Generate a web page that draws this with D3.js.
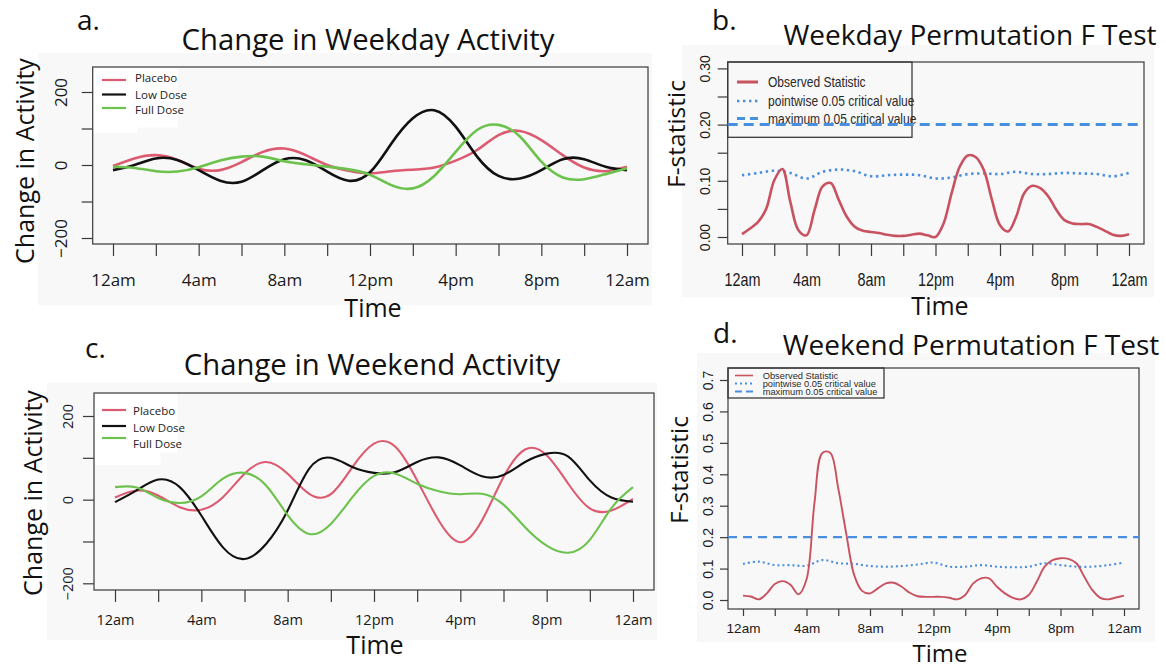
<!DOCTYPE html>
<html>
<head>
<meta charset="utf-8">
<script src="https://cdn.jsdelivr.net/npm/d3@7"></script>
<style>
  body { margin: 0; background: #fff; }
  svg text { font-family: "Open Sans", "DejaVu Sans", sans-serif; fill: #111; }
</style>
</head>
<body>
<svg id="fig" width="1166" height="669"></svg>
<script>
// ---- time grid -------------------------------------------------------------
const hours = d3.range(0, 25);            // hourly samples, 0..24
const halfHours = d3.range(0, 24.5, 0.5); // half-hour samples, 0..24
const timeTicks = d3.range(0, 25, 2);
const timeLabels = ["12am", "4am", "8am", "12pm", "4pm", "8pm", "12am"];
const groups = ["Placebo", "Low Dose", "Full Dose"];

// ---- change in activity (hourly) -----------------------------------------
const weekdayPlacebo = [-3, 18, 27, 14, -10, -14, 8, 36, 45, 27, 0, -16, -23, -17, -13, -7, 12, 41, 82, 93, 68, 27, -7, -17, -5];
const weekdayLowDose = [-14, 0, 18, 14, -14, -43, -46, -14, 16, 13, -18, -43, -20, 59, 128, 150, 105, 23, -30, -37, -14, 16, 16, -5, -14];
const weekdayFullDose = [-5, -8, -17, -18, -6, 12, 23, 23, 10, 2, -5, -12, -27, -55, -64, -30, 36, 96, 110, 78, 9, -34, -39, -25, -9];

const weekendPlacebo = [5, 22, 10, -18, -24, 6, 62, 90, 62, 14, 13, 78, 134, 126, 46, -50, -102, -50, 54, 120, 106, 38, -21, -26, 2];
const weekendLowDose = [-6, 22, 48, 30, -38, -114, -142, -106, -26, 74, 100, 78, 64, 66, 90, 101, 82, 56, 59, 90, 110, 103, 46, 5, -5];
const weekendFullDose = [30, 29, 4, -8, 8, 50, 64, 34, -37, -82, -58, 6, 57, 62, 38, 20, 13, 14, -12, -66, -110, -127, -96, -20, 30];

const activityTicks = [-200, -100, 0, 100, 200];
const activityLabels = [-200, 0, 200];

// ---- permutation F tests --------------------------------------------------
const weekdayObservedF = [0.005, 0.015, 0.027, 0.05, 0.101, 0.121, 0.062, 0.012, 0.003, 0.048, 0.09, 0.096, 0.066, 0.036, 0.018, 0.011,
  0.009, 0.007, 0.004, 0.002, 0.002, 0.004, 0.006, 0.003, 0.0, 0.024, 0.078, 0.125, 0.145, 0.142, 0.119, 0.066,
  0.021, 0.01, 0.036, 0.078, 0.091, 0.087, 0.072, 0.048, 0.03, 0.024, 0.023, 0.023, 0.018, 0.011, 0.004, 0.002, 0.005];
const weekdayPointwiseCV = [0.110, 0.114, 0.118, 0.114, 0.104, 0.116, 0.120, 0.117, 0.108, 0.110, 0.111, 0.110, 0.104,
  0.106, 0.112, 0.113, 0.112, 0.116, 0.112, 0.112, 0.114, 0.113, 0.112, 0.108, 0.114];
const weekdayMaximumCV = 0.20;
const weekdayFTicks = [0, 0.05, 0.10, 0.15, 0.20, 0.25, 0.30];
const weekdayFLabels = [0, 0.10, 0.20, 0.30];

const weekendObservedF = [0.014, 0.011, 0.002, 0.021, 0.051, 0.06, 0.048, 0.018, 0.065, 0.308, 0.468, 0.468, 0.355, 0.212, 0.08, 0.029,
  0.021, 0.037, 0.053, 0.055, 0.042, 0.023, 0.012, 0.01, 0.01, 0.01, 0.007, 0.002, 0.016, 0.053, 0.069, 0.069,
  0.042, 0.021, 0.007, 0.002, 0.016, 0.058, 0.106, 0.127, 0.133, 0.131, 0.117, 0.074, 0.032, 0.007, 0.002, 0.008, 0.014];
const weekendPointwiseCV = [0.115, 0.122, 0.111, 0.111, 0.109, 0.127, 0.117, 0.115, 0.108, 0.106, 0.108, 0.113, 0.119,
  0.106, 0.106, 0.111, 0.106, 0.104, 0.106, 0.117, 0.111, 0.106, 0.106, 0.111, 0.119];
const weekendMaximumCV = 0.20;
const weekendFTicks = [0, 0.1, 0.2, 0.3, 0.4, 0.5, 0.6, 0.7];
const weekendFLabels = [0, 0.1, 0.2, 0.3, 0.4, 0.5, 0.6, 0.7];

const fLegend = ["Observed Statistic", "pointwise 0.05 critical value", "maximum 0.05 critical value"];

// ---- styling ----------------------------------------------------------------
const groupColors = ["#dc5b70", "#111111", "#6cc24d"];
const obsColor = "#c8525f";
const cvColor = "#4a8ee0";
const panelFill = "#f8f8f8";
const axisColor = "#3a3a3a";
const narrow = '"Liberation Sans Narrow", "Arial Narrow", "Liberation Sans", sans-serif';
const helv = '"Liberation Sans", Arial, sans-serif';

const svg = d3.select("#fig");

function frame(g, box) {
  g.append("rect")
    .attr("x", box.l).attr("y", box.t)
    .attr("width", box.r - box.l).attr("height", box.b - box.t)
    .attr("fill", "none").attr("stroke", axisColor).attr("stroke-width", 1.2);
}

function timeAxis(g, x, box, o) {
  const axis = d3.axisBottom(x).tickValues(timeTicks).tickSize(o.tick).tickSizeOuter(0)
    .tickFormat(h => h % 4 === 0 ? timeLabels[h / 4] : "");
  const a = g.append("g").attr("transform", `translate(0,${box.b})`).call(axis);
  a.select(".domain").remove();
  a.selectAll(".tick line").attr("stroke", axisColor).attr("stroke-width", 1.2);
  a.selectAll(".tick text")
    .attr("y", o.labelY - box.b).attr("dy", null)
    .style("font-family", o.font).style("font-size", o.size + "px").style("fill", "#1a1a1a")
    .attr("transform", o.sx ? `scale(${o.sx},1)` : null);
}

function valueAxis(g, y, box, o) {
  const axis = d3.axisLeft(y).tickValues(o.ticks).tickSize(o.tick).tickSizeOuter(0)
    .tickFormat(v => o.labels.includes(v) ? o.fmt(v) : "");
  const a = g.append("g").attr("transform", `translate(${box.l},0)`).call(axis);
  a.select(".domain").remove();
  a.selectAll(".tick line").attr("stroke", axisColor).attr("stroke-width", 1.2);
  a.selectAll(".tick text")
    .attr("x", null).attr("dy", null).attr("text-anchor", "middle")
    .attr("transform", `translate(${-o.offset},0) rotate(-90)`)
    .style("font-family", o.font).style("font-size", o.size + "px").style("fill", "#1a1a1a");
}

function label(g, text, x, y, size, opts = {}) {
  const t = g.append("text").attr("x", x).attr("y", y).text(text)
    .style("font-size", size + "px").attr("text-anchor", opts.anchor || "start");
  if (opts.rotate) t.attr("transform", `rotate(-90,${x},${y})`);
  return t;
}

// ---- change-in-activity panels -------------------------------------------
function activityPanel(p) {
  const g = svg.append("g");
  g.append("rect").attr("x", p.bg[0]).attr("y", p.bg[1]).attr("width", p.bg[2] - p.bg[0]).attr("height", p.bg[3] - p.bg[1]).attr("fill", panelFill);

  const x = d3.scaleLinear().domain([0, 24]).range(p.xRange);
  const y = d3.scaleLinear().domain([-200, 200]).range(p.yRange);

  // white patch behind the key
  p.keyPatches.forEach(r => g.append("rect").attr("x", r[0]).attr("y", r[1]).attr("width", r[2]).attr("height", r[3]).attr("fill", "#fff"));

  frame(g, p.box);
  timeAxis(g, x, p.box, { tick: 12, labelY: p.tickLabelY, font: '"Open Sans", sans-serif', size: p.tickSize });
  valueAxis(g, y, p.box, { ticks: activityTicks, labels: activityLabels, fmt: d3.format("d"), tick: 11,
    offset: p.yLabelOffset, font: '"Open Sans", sans-serif', size: p.tickSize });

  const line = d3.line().x((d, i) => x(hours[i])).y(d => y(d)).curve(d3.curveNatural);
  p.series.forEach((s, i) => {
    g.append("path").datum(s).attr("d", line).attr("fill", "none")
      .attr("stroke", groupColors[i]).attr("stroke-width", p.lineWidth);
  });

  groups.forEach((name, i) => {
    g.append("line").attr("x1", p.key.x0).attr("x2", p.key.x1).attr("y1", p.key.lineY[i]).attr("y2", p.key.lineY[i])
      .attr("stroke", groupColors[i]).attr("stroke-width", 2.2);
    label(g, name, p.key.tx, p.key.textY[i], 11.5).style("fill", "#222");
  });

  label(g, p.letter, p.letterPos[0], p.letterPos[1], 28);
  label(g, p.title, p.titlePos[0], p.titlePos[1], 29.3, { anchor: "middle" });
  label(g, "Change in Activity", p.ylabPos[0], p.ylabPos[1], 25, { anchor: "middle", rotate: true });
  label(g, "Time", p.xlabPos[0], p.xlabPos[1], 25, { anchor: "middle" });
}

activityPanel({
  bg: [38, 53, 652, 305],
  box: { l: 92.7, r: 648, t: 67, b: 244 },
  xRange: [113, 627], yRange: [238, 92],
  keyPatches: [[93.5, 67.5, 84, 60], [93.5, 120, 44, 13]],
  series: [weekdayPlacebo, weekdayLowDose, weekdayFullDose],
  lineWidth: 2.6,
  tickLabelY: 286, tickSize: 17, yLabelOffset: 26,
  key: { x0: 102, x1: 126, lineY: [80, 94.5, 108], tx: 135, textY: [82, 98.5, 114] },
  letter: "a.", letterPos: [77, 30],
  title: "Change in Weekday Activity", titlePos: [368, 50],
  ylabPos: [34, 161], xlabPos: [373, 317]
});

activityPanel({
  bg: [47, 383, 657, 640],
  box: { l: 94, r: 654, t: 393, b: 590 },
  xRange: [115, 633], yRange: [583.3, 416],
  keyPatches: [[94.5, 393.5, 83, 59], [94.5, 452, 66, 13]],
  series: [weekendPlacebo, weekendLowDose, weekendFullDose],
  lineWidth: 2.1,
  tickLabelY: 625, tickSize: 14.5, yLabelOffset: 21,
  key: { x0: 102, x1: 126, lineY: [410, 426, 438], tx: 133, textY: [415, 431.5, 448] },
  letter: "c.", letterPos: [85, 358],
  title: "Change in Weekend Activity", titlePos: [372, 375],
  ylabPos: [42, 493], xlabPos: [375, 654]
});

// ---- permutation F-test panels ---------------------------------------------
function fPanel(p) {
  const g = svg.append("g");
  g.append("rect").attr("x", p.bg[0]).attr("y", p.bg[1]).attr("width", p.bg[2] - p.bg[0]).attr("height", p.bg[3] - p.bg[1]).attr("fill", panelFill);

  const x = d3.scaleLinear().domain([0, 24]).range(p.xRange);
  const y = d3.scaleLinear().domain(p.yDomain).range(p.yRange);

  frame(g, p.box);
  timeAxis(g, x, p.box, { tick: p.xTick, labelY: p.tickLabelY, font: narrow, size: p.xTickSize, sx: p.xTickSx });
  valueAxis(g, y, p.box, { ticks: p.ticks, labels: p.labels, fmt: d3.format(p.fmt), tick: p.yTick,
    offset: p.yLabelOffset, font: p.yTickFont, size: p.yTickSize });

  // key box first, so the critical-value line runs over it
  const k = p.key;
  g.append("rect").attr("x", p.box.l).attr("y", p.box.t).attr("width", k.w).attr("height", k.h)
    .attr("fill", "none").attr("stroke", axisColor).attr("stroke-width", 1.3);
  const keyStyles = [
    { stroke: obsColor, width: k.obsW, dash: null },
    { stroke: cvColor, width: k.dotW, dash: k.dot },
    { stroke: cvColor, width: k.dashW, dash: k.dash }
  ];
  fLegend.forEach((name, i) => {
    g.append("line").attr("x1", k.x0).attr("x2", k.x1).attr("y1", k.lineY[i]).attr("y2", k.lineY[i])
      .attr("stroke", keyStyles[i].stroke).attr("stroke-width", keyStyles[i].width)
      .attr("stroke-dasharray", keyStyles[i].dash);
    g.append("text").attr("transform", `translate(${k.tx},${k.textY[i]}) scale(${k.sx},1)`)
      .text(name).style("font-family", k.font).style("font-size", k.size + "px").style("fill", "#2a2a2a");
  });

  const obsLine = d3.line().x((d, i) => x(halfHours[i])).y(d => y(d)).curve(d3.curveCatmullRom);
  const cvLine = d3.line().x((d, i) => x(hours[i])).y(d => y(d)).curve(d3.curveCatmullRom);

  g.append("path").datum(p.pointwise).attr("d", cvLine).attr("fill", "none")
    .attr("stroke", cvColor).attr("stroke-width", p.dotW).attr("stroke-dasharray", p.dot);
  g.append("line").attr("x1", p.box.l).attr("x2", p.box.r).attr("y1", y(p.maximum)).attr("y2", y(p.maximum))
    .attr("stroke", cvColor).attr("stroke-width", p.dashW).attr("stroke-dasharray", p.dash);
  g.append("path").datum(p.observed).attr("d", obsLine).attr("fill", "none")
    .attr("stroke", obsColor).attr("stroke-width", p.obsW);

  label(g, p.letter, p.letterPos[0], p.letterPos[1], 28);
  label(g, p.title, p.titlePos[0], p.titlePos[1], 28, { anchor: "middle" });
  label(g, "F-statistic", p.ylabPos[0], p.ylabPos[1], 24.5, { anchor: "middle", rotate: true });
  label(g, "Time", p.xlabPos[0], p.xlabPos[1], p.xlabSize || 25, { anchor: "middle" });
}

fPanel({
  bg: [682, 45, 1154, 297],
  box: { l: 727.7, r: 1144, t: 62, b: 244 },
  xRange: [742, 1129], yDomain: [0, 0.3], yRange: [237, 68.4],
  ticks: weekdayFTicks, labels: weekdayFLabels, fmt: ".2f",
  xTick: 12, yTick: 10, tickLabelY: 286, xTickSize: 18, xTickSx: 0.8,
  yLabelOffset: 18, yTickFont: helv, yTickSize: 14,
  observed: weekdayObservedF, pointwise: weekdayPointwiseCV, maximum: weekdayMaximumCV,
  obsW: 2.6, dotW: 2.6, dot: "2.4,3.6", dashW: 3, dash: "10,6",
  key: { w: 184.3, h: 75.3, x0: 737, x1: 758, lineY: [82, 101, 118.5], tx: 768, textY: [87, 106, 124],
    font: narrow, size: 14, sx: 0.86, obsW: 3, dotW: 2.6, dot: "2.4,3.6", dashW: 3, dash: "8,5" },
  letter: "b.", letterPos: [712, 30],
  title: "Weekday Permutation F Test", titlePos: [970, 45],
  ylabPos: [685, 134], xlabPos: [940, 315]
});

fPanel({
  bg: [697, 353, 1155, 642],
  box: { l: 728, r: 1139, t: 368, b: 609 },
  xRange: [743, 1124], yDomain: [0, 0.7], yRange: [600, 380],
  ticks: weekendFTicks, labels: weekendFLabels, fmt: ".1f",
  xTick: 7, yTick: 8, tickLabelY: 633, xTickSize: 13.5, xTickSx: null,
  yLabelOffset: 15, yTickFont: narrow, yTickSize: 14,
  observed: weekendObservedF, pointwise: weekendPointwiseCV, maximum: weekendMaximumCV,
  obsW: 1.9, dotW: 2.1, dot: "2,3", dashW: 2.1, dash: "9,6",
  key: { w: 156, h: 30, x0: 735, x1: 753, lineY: [375.5, 383.5, 391.5], tx: 762.7, textY: [379, 387, 395],
    font: helv, size: 9.3, sx: 1, obsW: 1.6, dotW: 1.8, dot: "2,3", dashW: 1.8, dash: "7,4" },
  letter: "d.", letterPos: [713, 343],
  title: "Weekend Permutation F Test", titlePos: [971, 355],
  ylabPos: [688, 470], xlabPos: [940, 662], xlabSize: 24
});
</script>
</body>
</html>
